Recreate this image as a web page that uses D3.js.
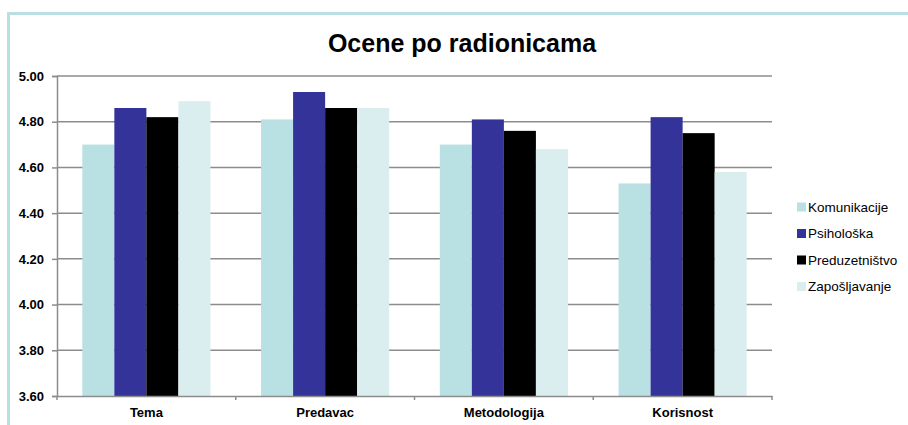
<!DOCTYPE html>
<html>
<head>
<meta charset="utf-8">
<script src="https://cdn.jsdelivr.net/npm/d3@7"></script>
<style>
    body { margin: 0; background: #ffffff; }
    svg { display: block; font-family: "Liberation Sans", Arial, sans-serif; }
</style>
</head>
<body>
<svg id="chart"></svg>
<script>
const categories = ["Tema", "Predavac", "Metodologija", "Korisnost"];
const seriesNames = ["Komunikacije", "Psihološka", "Preduzetništvo", "Zapošljavanje"];
const komunikacije = [4.70, 4.81, 4.70, 4.53];
const psiholoska = [4.86, 4.93, 4.81, 4.82];
const preduzetnistvo = [4.82, 4.86, 4.76, 4.75];
const zaposljavanje = [4.89, 4.86, 4.68, 4.58];
const yTicks = [3.6, 3.8, 4.0, 4.2, 4.4, 4.6, 4.8, 5.0];
const colors = ["#b9e0e3", "#333399", "#000000", "#daeef0"];

const width = 908, height = 425;
const margin = { top: 76, right: 136, bottom: 29, left: 57 };

const seriesValues = [komunikacije, psiholoska, preduzetnistvo, zaposljavanje];
const data = categories.map((c, i) => ({
    category: c,
    values: seriesNames.map((s, j) => ({ name: s, value: seriesValues[j][i] }))
}));

const svg = d3.select("#chart").attr("width", width).attr("height", height);

// light blue frame (top and left edges only)
svg.append("path")
    .attr("d", `M8.5,${height} V13.5 H${width}`)
    .attr("fill", "none")
    .attr("stroke", "#b9dfe3")
    .attr("stroke-width", 3);

svg.append("text")
    .attr("x", 462)
    .attr("y", 52)
    .attr("text-anchor", "middle")
    .style("font-size", "25px")
    .style("font-weight", "bold")
    .text("Ocene po radionicama");

const x0 = d3.scaleBand()
    .domain(categories)
    .range([margin.left, width - margin.right])
    .padding(0);

const x1 = d3.scaleBand()
    .domain(seriesNames)
    .range([0, x0.bandwidth()])
    .paddingInner(0)
    .paddingOuter(0.79);

const y = d3.scaleLinear()
    .domain([3.6, 5.0])
    .range([height - margin.bottom, margin.top]);

// gridlines
svg.append("g")
    .selectAll("line")
    .data(yTicks.slice(1))
    .enter()
    .append("line")
    .attr("x1", margin.left)
    .attr("x2", width - margin.right)
    .attr("y1", (d) => y(d))
    .attr("y2", (d) => y(d))
    .attr("stroke", "#8c8c8c")
    .attr("stroke-width", 1.5);

// bars
svg.append("g")
    .selectAll("g")
    .data(data)
    .enter()
    .append("g")
    .attr("transform", (d) => `translate(${x0(d.category)},0)`)
    .selectAll("rect")
    .data((d) => d.values)
    .enter()
    .append("rect")
    .attr("x", (d) => x1(d.name))
    .attr("width", x1.bandwidth())
    .attr("y", (d) => y(d.value))
    .attr("height", (d) => y(3.6) - y(d.value))
    .attr("fill", (d, i) => colors[i]);

// y axis
const yAxis = svg.append("g")
    .attr("transform", `translate(${margin.left},0)`)
    .call(d3.axisLeft(y).tickValues(yTicks).tickFormat(d3.format(".2f")).tickSize(5).tickPadding(8));
yAxis.select(".domain").attr("stroke", "#8c8c8c").attr("stroke-width", 1.5);
yAxis.selectAll(".tick line").attr("stroke", "#8c8c8c").attr("stroke-width", 1.5);
yAxis.selectAll(".tick text")
    .attr("fill", "#000")
    .style("font-size", "13px")
    .style("font-weight", "bold")
    .style("font-family", "'Liberation Sans', Arial, sans-serif");

// x axis
const xAxis = svg.append("g")
    .attr("transform", `translate(0,${height - margin.bottom})`)
    .call(d3.axisBottom(x0).tickSize(0).tickPadding(12));
xAxis.select(".domain").attr("stroke", "#8c8c8c").attr("stroke-width", 1.5);
xAxis.selectAll(".tick text")
    .attr("fill", "#000")
    .style("font-size", "13px")
    .style("font-weight", "bold")
    .style("font-family", "'Liberation Sans', Arial, sans-serif");

// category separator ticks
const bounds = categories.map((c) => x0(c)).concat([x0.range()[1]]);
xAxis.selectAll(".sep")
    .data(bounds)
    .enter()
    .append("line")
    .attr("class", "sep")
    .attr("x1", (d) => d)
    .attr("x2", (d) => d)
    .attr("y1", 0)
    .attr("y2", 4)
    .attr("stroke", "#8c8c8c")
    .attr("stroke-width", 1.5);

// legend
const legend = svg.append("g")
    .selectAll("g")
    .data(seriesNames)
    .enter()
    .append("g")
    .attr("transform", (d, i) => `translate(797,${207 + i * 26.5})`);

legend.append("rect")
    .attr("x", 0)
    .attr("y", -4.5)
    .attr("width", 9)
    .attr("height", 9)
    .attr("fill", (d, i) => colors[i]);

legend.append("text")
    .attr("x", 11)
    .attr("y", 0)
    .attr("dy", "0.35em")
    .style("font-size", "13.5px")
    .text((d) => d);
</script>
</body>
</html>
